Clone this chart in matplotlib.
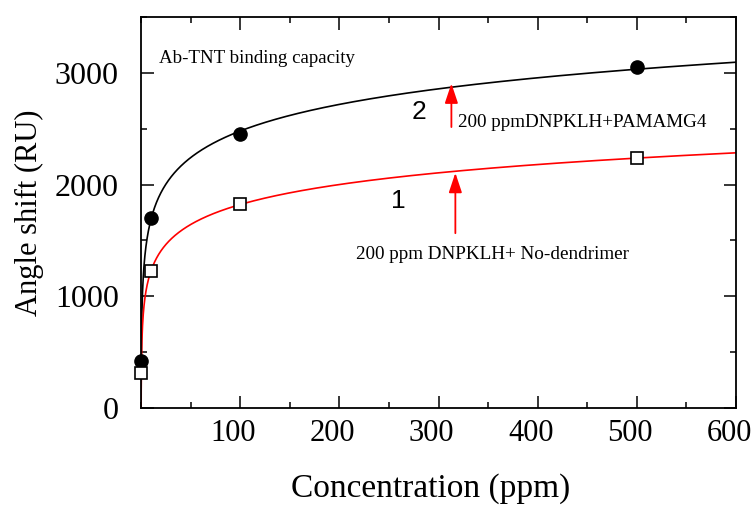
import numpy as np
import matplotlib.pyplot as plt
import matplotlib.transforms as mtransforms
from matplotlib.ticker import MultipleLocator

# data
conc = [0, 10, 100, 500]
shift_pamam = [420, 1700, 2450, 3050]      # curve 2, filled circles
shift_nodend = [310, 1225, 1825, 2235]     # curve 1, open squares

serif = ["Liberation Serif", "DejaVu Serif"]
sans = ["Liberation Sans", "DejaVu Sans"]

fig = plt.figure(figsize=(7.55, 5.09), dpi=100)
ax = fig.add_axes([0.1868, 0.1984, 0.7880, 0.7682])


# logarithmic fit through the non-zero points
def log_fit(x, y):
    x = np.asarray(x, float)
    y = np.asarray(y, float)
    m = x > 0
    b, a = np.polyfit(np.log(x[m]), y[m], 1)
    return a, b


xx = np.linspace(0.01, 600, 4000)
for ys, col in [(shift_pamam, "black"), (shift_nodend, "red")]:
    a, b = log_fit(conc, ys)
    ax.plot(xx, a + b * np.log(xx), color=col, lw=1.2, zorder=2)

ax.plot(conc, shift_pamam, "o", color="black", ms=9.5, zorder=3, clip_on=False)
ax.plot(conc, shift_nodend, "s", mfc="white", mec="black", mew=1.2, ms=9,
        zorder=3, clip_on=False)

ax.set_xlim(0, 600)
ax.set_ylim(0, 3500)
ax.xaxis.set_major_locator(MultipleLocator(100))
ax.xaxis.set_minor_locator(MultipleLocator(50))
ax.yaxis.set_major_locator(MultipleLocator(1000))
ax.yaxis.set_minor_locator(MultipleLocator(500))
ax.set_xticks([100, 200, 300, 400, 500, 600])
ax.tick_params(which="both", direction="in", top=True, right=True, width=1.1)
ax.tick_params(which="major", length=9)
ax.tick_params(which="minor", length=4)
ax.tick_params(axis="x", which="major", pad=8)
ax.tick_params(axis="y", which="major", pad=16)
shift = mtransforms.ScaledTranslation(-7 / 100, 0, fig.dpi_scale_trans)
for lab in ax.get_xticklabels():
    lab.set_fontfamily(serif)
    lab.set_fontsize(22)
    lab.set_transform(lab.get_transform() + shift)
for lab in ax.get_yticklabels():
    lab.set_fontfamily(serif)
    lab.set_fontsize(23)
for sp in ax.spines.values():
    sp.set_linewidth(1.3)

ax.set_xlabel("Concentration (ppm)", family=serif, fontsize=24)
ax.xaxis.set_label_coords(0.487, -0.166)
ax.set_ylabel("Angle shift (RU)", family=serif, fontsize=22, labelpad=8)

ax.text(18, 3125, "Ab-TNT binding capacity", family=serif, fontsize=13.6,
        va="center")
ax.text(280, 2650, "2", family=sans, fontsize=19, va="center", ha="center")
ax.text(259, 1855, "1", family=sans, fontsize=19, va="center", ha="center")

arrow = dict(arrowstyle="-|>,head_length=1.2,head_width=0.4", color="red", lw=1.3)
ax.annotate("", xy=(313, 2930), xytext=(313, 2490), arrowprops=arrow)
ax.annotate("", xy=(317, 2130), xytext=(317, 1540), arrowprops=arrow)
ax.text(320, 2560, "200 ppmDNPKLH+PAMAMG4", family=serif, fontsize=13.8,
        va="center")
ax.text(217, 1370, "200 ppm DNPKLH+ No-dendrimer", family=serif, fontsize=13.8,
        va="center")

fig.savefig("out.png", dpi=100)
